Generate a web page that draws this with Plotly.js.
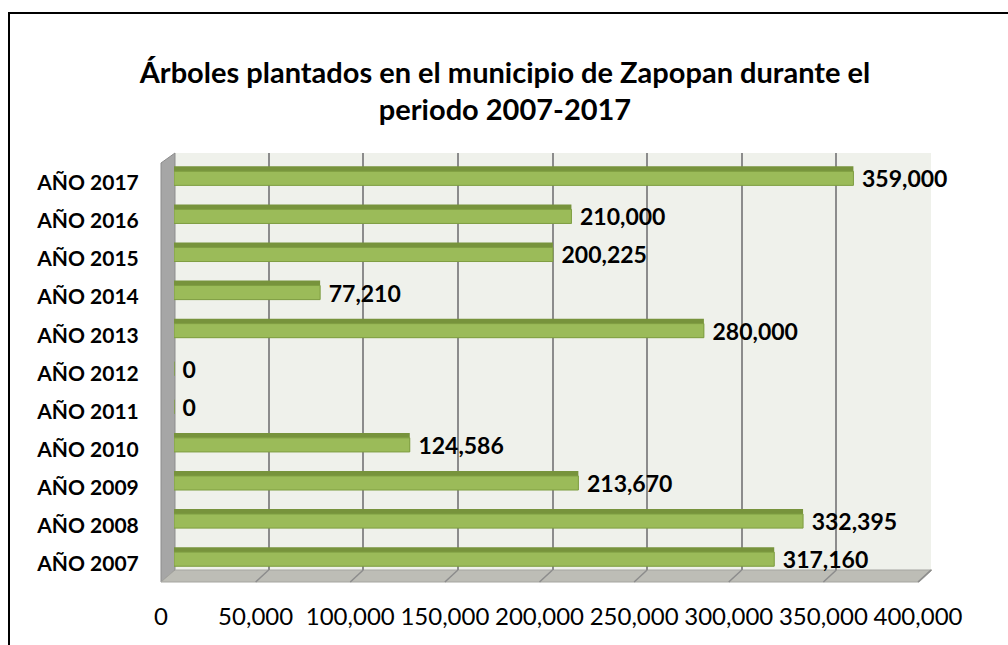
<!DOCTYPE html>
<html>
<head>
<meta charset="utf-8">
<script src="https://cdn.plot.ly/plotly-3.0.1.min.js"></script>
<style>
  html, body { margin: 0; padding: 0; background: #fff; overflow: hidden; }
  #wrap { position: relative; width: 1008px; height: 645px; }
  #chart { width: 1008px; height: 645px; }
  #frame { position: absolute; left: 8px; top: 12px; width: 1100px; height: 700px;
           border-left: 2px solid #000; border-top: 2px solid #000; pointer-events: none; }
</style>
</head>
<body>
<div id="wrap"><div id="chart"></div><div id="frame"></div></div>
<script>
const years = ['AÑO 2007','AÑO 2008','AÑO 2009','AÑO 2010','AÑO 2011','AÑO 2012',
               'AÑO 2013','AÑO 2014','AÑO 2015','AÑO 2016','AÑO 2017'];
const trees = [317160, 332395, 213670, 124586, 0, 0, 280000, 77210, 200225, 210000, 359000];
const xTickVals = [0, 50000, 100000, 150000, 200000, 250000, 300000, 350000, 400000];
const xTickText = ['0','50,000','100,000','150,000','200,000','250,000','300,000','350,000','400,000'];
const titleText = 'Árboles plantados en el municipio de Zapopan durante el<br>periodo 2007-2017';

const FONT = 'Lato, "Open Sans", sans-serif';
const M = {l: 174, r: 77, t: 153, b: 75};
const W = 1008, H = 645;
const pw = W - M.l - M.r, ph = H - M.t - M.b;
const px = v => (v - M.l) / pw;
const py = v => (H - M.b - v) / ph;
const pathOf = pts => 'M' + pts.map(p => px(p[0]).toFixed(5) + ',' + py(p[1]).toFixed(5)).join(' L') + ' Z';

const shapes = [
  {type: 'path', xref: 'paper', yref: 'paper', layer: 'below',
   path: pathOf([[161,163],[175,153],[175,570],[161,582]]),
   fillcolor: '#A6A6A6', line: {color: '#8C8C8C', width: 1}},
  {type: 'path', xref: 'paper', yref: 'paper', layer: 'below',
   path: pathOf([[161,582],[175,570],[932,570],[919,582]]),
   fillcolor: '#BDBDB6', line: {color: '#A5A5A0', width: 1}}
];
xTickVals.forEach(v => {
  shapes.push({type: 'line', xref: 'x', yref: 'paper', xsizemode: 'pixel', xanchor: v,
    x0: 0, x1: -13, y0: 0, y1: py(582), layer: 'below',
    line: {color: '#8C8C8C', width: 1.5}});
});

const dark = {
  type: 'bar', orientation: 'h', x: trees, y: years,
  width: 0.5, offset: -0.25,
  marker: {color: '#77933C'}, hoverinfo: 'skip'
};
const light = {
  type: 'bar', orientation: 'h', x: trees, y: years,
  width: 0.37, offset: -0.25,
  marker: {color: '#9BBB59', line: {color: '#7F9E42', width: 1}},
  texttemplate: '\u00A0%{x:,}', textposition: 'outside', constraintext: 'none', cliponaxis: false,
  textfont: {family: FONT, size: 23, color: '#000', weight: 'bold'},
  hoverinfo: 'skip'
};

const layout = {
  width: W, height: H, margin: M,
  paper_bgcolor: '#FFFFFF', plot_bgcolor: '#EFF1EB',
  barmode: 'overlay', showlegend: false,
  title: {text: titleText, x: 0.501, xref: 'container', xanchor: 'center',
          y: 0.872, yref: 'container', yanchor: 'middle',
          font: {family: FONT, size: 29, color: '#000', weight: 'bold'}},
  xaxis: {range: [0, 400000], tickvals: xTickVals, ticktext: xTickText,
          showgrid: true, gridcolor: '#8C8C8C', gridwidth: 2, zeroline: false,
          showline: false, ticks: 'outside', ticklen: 25, tickcolor: 'rgba(0,0,0,0)',
          ticklabelshift: -13, fixedrange: true,
          tickfont: {family: FONT, size: 24, color: '#000'}},
  yaxis: {type: 'category', categoryarray: years, categoryorder: 'array',
          range: [-0.35, 10.6], showgrid: false, zeroline: false, showline: false,
          ticks: 'outside', ticklen: 30, tickcolor: 'rgba(0,0,0,0)',
          ticklabelshift: 7, fixedrange: true,
          tickfont: {family: FONT, size: 21, color: '#000', weight: 'bold'}},
  shapes: shapes
};

Plotly.newPlot('chart', [dark, light], layout, {displayModeBar: false, staticPlot: true});
</script>
</body>
</html>
